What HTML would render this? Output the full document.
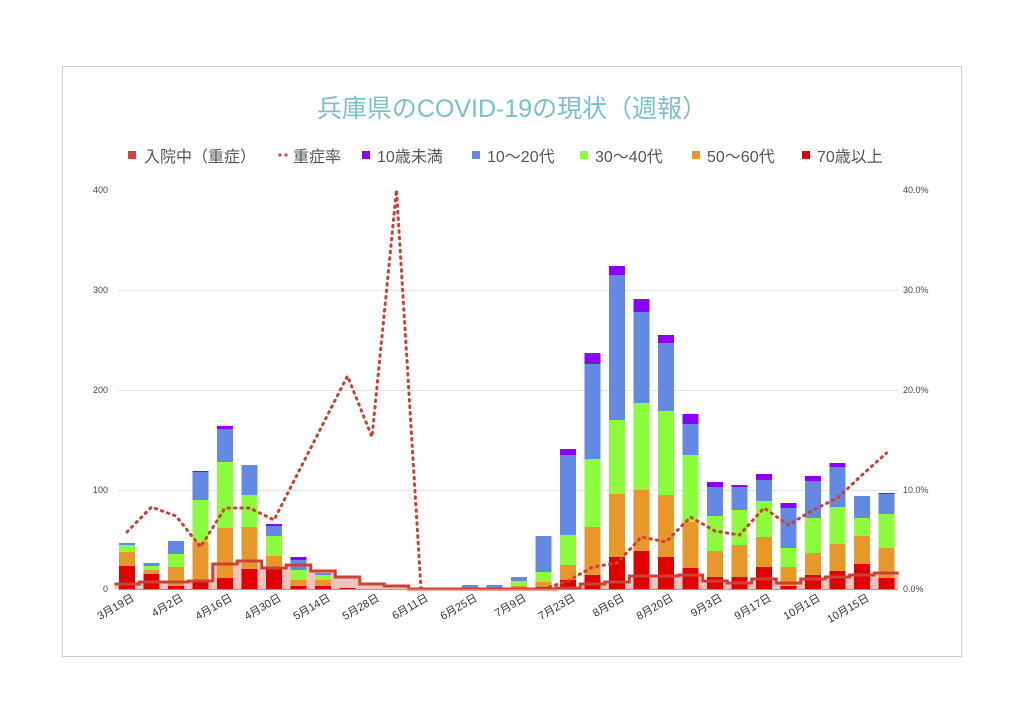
<!DOCTYPE html>
<html><head><meta charset="utf-8"><style>
body{margin:0;background:#fff;width:1024px;height:723px;overflow:hidden}
svg{display:block}
text{font-family:"Liberation Sans","Noto Sans CJK JP",sans-serif}
</style></head><body>
<svg width="1024" height="723" xmlns="http://www.w3.org/2000/svg" id="s">
<rect x="62.5" y="66.5" width="899" height="590" fill="#fff" stroke="#ccc"/>
<text x="512" y="117" text-anchor="middle" font-size="25" fill="#7cbfc7">兵庫県のCOVID-19の現状（週報）</text>
<g font-size="16" fill="#555">
<rect x="128" y="151" width="8" height="8" fill="#d0453b"/><text x="144" y="162">入院中（重症）</text>
<circle cx="280" cy="155" r="1.6" fill="#d0453b"/><circle cx="286" cy="155" r="1.6" fill="#d0453b"/><text x="293" y="162">重症率</text>
<rect x="362" y="151" width="8" height="8" fill="#8b00ff"/><text x="377" y="162">10歳未満</text>
<rect x="472" y="151" width="8" height="8" fill="#6389e4"/><text x="487" y="162">10～20代</text>
<rect x="580" y="151" width="8" height="8" fill="#8cfd3c"/><text x="595" y="162">30～40代</text>
<rect x="692" y="151" width="8" height="8" fill="#e8972a"/><text x="707" y="162">50～60代</text>
<rect x="802" y="151" width="8" height="8" fill="#e00000"/><text x="817" y="162">70歳以上</text>
</g>
<g stroke="#e3e3e3"><line x1="118" x2="898" y1="290.5" y2="290.5"/><line x1="118" x2="898" y1="390.5" y2="390.5"/><line x1="118" x2="898" y1="490.5" y2="490.5"/></g>
<g font-size="9" fill="#444" text-anchor="end"><text x="108" y="193">400</text><text x="108" y="293">300</text><text x="108" y="393">200</text><text x="108" y="493">100</text><text x="108" y="592">0</text></g>
<g font-size="9" fill="#444"><text x="903" y="193">40.0%</text><text x="903" y="293">30.0%</text><text x="903" y="393">20.0%</text><text x="903" y="493">10.0%</text><text x="903" y="592">0.0%</text></g>
<g id="fill"></g>
<g id="bars"></g>
<g id="lines"></g>
<line x1="118" x2="898" y1="589.5" y2="589.5" stroke="#999"/>
<g id="xl" font-size="11" fill="#333"></g>
</svg>
<script>
var B=[[566,552,545,543,543],[574,570,566,563,563],[586,567,554,541,541],[582,542,500,472,471],[578,528,462,429,426],[569,527,495,465,465],[567,556,536,526,524],[586,580,570,560,557],[586,580,575,573,573],[588,588,588,588,588],[589,589,589,589,589],[589,589,589,589,589],[589,589,589,589,589],[589,589,589,589,589],[589,589,589,585,585],[589,589,589,585,585],[588,586,581,577,577],[587,582,572,536,536],
[580,565,535,455,449],[575,527,459,364,353],[557,494,420,275,266],[551,490,403,312,299],[557,495,411,343,335],[568,522,455,424,414],[577,551,516,487,482],[577,545,510,487,485],[567,537,501,480,474],[586,567,548,508,503],[575,553,518,481,476],[571,544,507,467,463],[564,536,518,496,496],[578,548,514,494,493]];
var C=["#e00000","#e8972a","#8cfd3c","#6389e4","#8b00ff"];
var h="";
B.forEach(function(b,i){var cx=127+24.5*i,prev=589;for(var k=0;k<5;k++){var t=b[k];if(prev-t>0.3)h+='<rect x="'+(cx-8)+'" y="'+t+'" width="16" height="'+(prev-t)+'" fill="'+C[k]+'"/>';prev=t;}});
document.getElementById("bars").innerHTML=h;
var S=[584,582,582,581,564,561,568,565,571,577,584,586,589,589,589,589,589,589,588,584,582,576,576,575,581,583,579,583,579,577,575,573];
var p="M114.5 "+S[0];S.forEach(function(y,i){var x0=127+24.5*i-12.25;p+=" L"+x0+" "+y+" L"+(x0+24.5)+" "+y;});
var fill=p+" L898 589 L114.5 589 Z";
var R=[532,507,516,547,508,508,520,472,424,376,437,190,589,589,589,589,589,589,581,567,563,537,542,517,531,535,508,525,510,498,475,453];
var q="";R.forEach(function(y,i){q+=(i?" L":"M")+(127+24.5*i)+" "+y;});
document.getElementById("fill").innerHTML='<path d="'+fill+'" fill="#f1c2bf"/>';
document.getElementById("lines").innerHTML='<path d="'+p+'" fill="none" stroke="#cc4136" stroke-width="3"/><path d="'+q+'" fill="none" stroke="#cc4136" stroke-width="3" stroke-dasharray="1.5 5" stroke-linecap="round"/>';
var L=["3月19日","4月2日","4月16日","4月30日","5月14日","5月28日","6月11日","6月25日","7月9日","7月23日","8月6日","8月20日","9月3日","9月17日","10月1日","10月15日"];
var g="";L.forEach(function(s,j){var x=127+49*j+8,y=600;g+='<text x="'+x+'" y="'+y+'" text-anchor="end" transform="rotate(-30 '+x+' '+y+')">'+s+'</text>';});
document.getElementById("xl").innerHTML=g;
</script>
</body></html>
